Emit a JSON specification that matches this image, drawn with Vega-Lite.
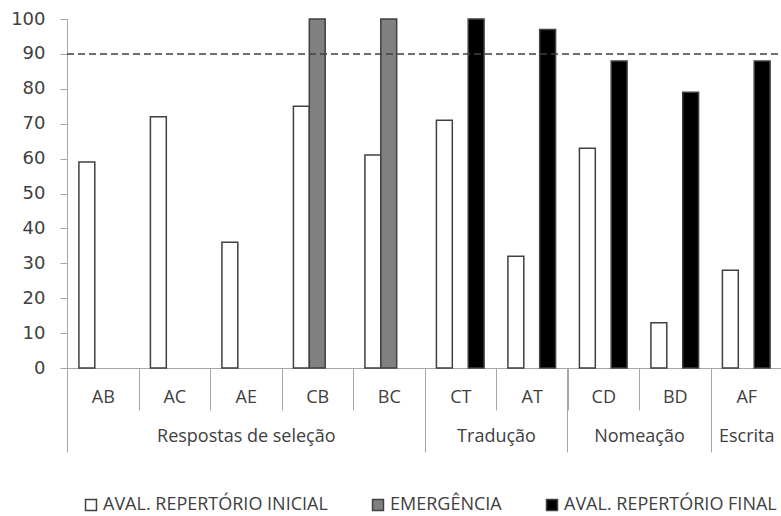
{
  "$schema": "https://vega.github.io/schema/vega-lite/v6.json",
  "width": 715,
  "height": 349,
  "autosize": {"type": "none"},
  "padding": {"left": 67, "top": 19, "right": 0, "bottom": 148},
  "background": "white",
  "config": {
    "view": {"stroke": null},
    "axis": {"grid": false},
    "axisY": {
      "labelOverlap": false,
      "tickCount": 11,
      "domainColor": "#a6a6a6",
      "tickColor": "#a6a6a6",
      "tickSize": 7,
      "labelPadding": 15,
      "labelFont": "DejaVu Sans",
      "labelFontSize": 18,
      "labelColor": "#404040",
      "title": null
    }
  },
  "datasets": {
    "barras": [
      {"grupo": "Respostas de seleção", "relacao": "AB", "avaliacao": "AVAL. REPERTÓRIO INICIAL", "valor": 59},
      {"grupo": "Respostas de seleção", "relacao": "AC", "avaliacao": "AVAL. REPERTÓRIO INICIAL", "valor": 72},
      {"grupo": "Respostas de seleção", "relacao": "AE", "avaliacao": "AVAL. REPERTÓRIO INICIAL", "valor": 36},
      {"grupo": "Respostas de seleção", "relacao": "CB", "avaliacao": "AVAL. REPERTÓRIO INICIAL", "valor": 75},
      {"grupo": "Respostas de seleção", "relacao": "CB", "avaliacao": "EMERGÊNCIA", "valor": 100},
      {"grupo": "Respostas de seleção", "relacao": "BC", "avaliacao": "AVAL. REPERTÓRIO INICIAL", "valor": 61},
      {"grupo": "Respostas de seleção", "relacao": "BC", "avaliacao": "EMERGÊNCIA", "valor": 100},
      {"grupo": "Tradução", "relacao": "CT", "avaliacao": "AVAL. REPERTÓRIO INICIAL", "valor": 71},
      {"grupo": "Tradução", "relacao": "CT", "avaliacao": "AVAL. REPERTÓRIO FINAL", "valor": 100},
      {"grupo": "Tradução", "relacao": "AT", "avaliacao": "AVAL. REPERTÓRIO INICIAL", "valor": 32},
      {"grupo": "Tradução", "relacao": "AT", "avaliacao": "AVAL. REPERTÓRIO FINAL", "valor": 97},
      {"grupo": "Nomeação", "relacao": "CD", "avaliacao": "AVAL. REPERTÓRIO INICIAL", "valor": 63},
      {"grupo": "Nomeação", "relacao": "CD", "avaliacao": "AVAL. REPERTÓRIO FINAL", "valor": 88},
      {"grupo": "Nomeação", "relacao": "BD", "avaliacao": "AVAL. REPERTÓRIO INICIAL", "valor": 13},
      {"grupo": "Nomeação", "relacao": "BD", "avaliacao": "AVAL. REPERTÓRIO FINAL", "valor": 79},
      {"grupo": "Escrita", "relacao": "AF", "avaliacao": "AVAL. REPERTÓRIO INICIAL", "valor": 28},
      {"grupo": "Escrita", "relacao": "AF", "avaliacao": "AVAL. REPERTÓRIO FINAL", "valor": 88}
    ],
    "criterio": [{"criterio": 90}]
  },
  "layer": [
    {
      "data": {"name": "barras"},
      "mark": {"type": "bar", "stroke": "#404040", "strokeWidth": 1.5},
      "encoding": {
        "x": {
          "field": "relacao",
          "type": "nominal",
          "sort": ["AB", "AC", "AE", "CB", "BC", "CT", "AT", "CD", "BD", "AF"],
          "scale": {"paddingInner": 0, "paddingOuter": 0},
          "axis": {
            "title": null,
            "labelAngle": 0,
            "domainColor": "#a6a6a6",
            "domainWidth": 1,
            "tickColor": "#a6a6a6",
            "tickBand": "extent",
            "tickSize": 42,
            "labelPadding": -22,
            "labelFont": "Open Sans",
            "labelFontSize": 18,
            "labelColor": "#404040"
          }
        },
        "xOffset": {
          "field": "avaliacao",
          "type": "nominal",
          "sort": ["AVAL. REPERTÓRIO INICIAL", "EMERGÊNCIA", "AVAL. REPERTÓRIO FINAL"],
          "scale": {"paddingInner": 0, "paddingOuter": 0.75}
        },
        "y": {
          "field": "valor",
          "type": "quantitative",
          "scale": {"domain": [0, 100], "nice": false},
          "axis": {"values": [0, 10, 20, 30, 40, 50, 60, 70, 80, 90, 100], "labelOverlap": false}
        },
        "fill": {
          "field": "avaliacao",
          "type": "nominal",
          "scale": {
            "domain": ["AVAL. REPERTÓRIO INICIAL", "EMERGÊNCIA", "AVAL. REPERTÓRIO FINAL"],
            "range": ["#ffffff", "#808080", "#000000"]
          },
          "legend": {
            "title": null,
            "orient": "none",
            "direction": "horizontal",
            "legendX": 15,
            "legendY": 477,
            "symbolType": "square",
            "symbolSize": 120,
            "symbolStrokeColor": "#404040",
            "symbolStrokeWidth": 1.5,
            "labelFont": "Open Sans",
            "labelFontSize": 18,
            "labelColor": "#404040",
            "labelOffset": 3,
            "columnPadding": 41,
            "labelLimit": 400
          }
        }
      }
    },
    {
      "data": {"name": "criterio"},
      "mark": {"type": "rule", "strokeDash": [7, 4], "color": "#404040", "strokeWidth": 1.5},
      "encoding": {
        "y": {
          "field": "criterio",
          "type": "quantitative",
          "axis": {"values": [0, 10, 20, 30, 40, 50, 60, 70, 80, 90, 100], "labelOverlap": false}
        },
        "x": {
          "datum": 0,
          "type": "quantitative",
          "scale": {"domain": [0, 10], "nice": false, "zero": false},
          "axis": {
            "title": null,
            "orient": "bottom",
            "domain": false,
            "values": [0, 2.5, 5, 6, 7, 8, 9, 9.5],
            "tickSize": 84,
            "tickColor": "#a6a6a6",
            "tickOpacity": {"condition": {"test": "indexof([0, 5, 7, 9], datum.value) >= 0", "value": 1}, "value": 0},
            "labelExpr": "datum.value == 2.5 ? 'Respostas de seleção' : datum.value == 6 ? 'Tradução' : datum.value == 8 ? 'Nomeação' : datum.value == 9.5 ? 'Escrita' : ''",
            "labelPadding": -25,
            "labelFlush": false,
            "labelOverlap": false,
            "labelBound": false,
            "labelFont": "Open Sans",
            "labelFontSize": 18,
            "labelColor": "#404040"
          }
        },
        "x2": {"datum": 10}
      }
    }
  ],
  "resolve": {"scale": {"x": "independent"}, "axis": {"x": "independent"}}
}
